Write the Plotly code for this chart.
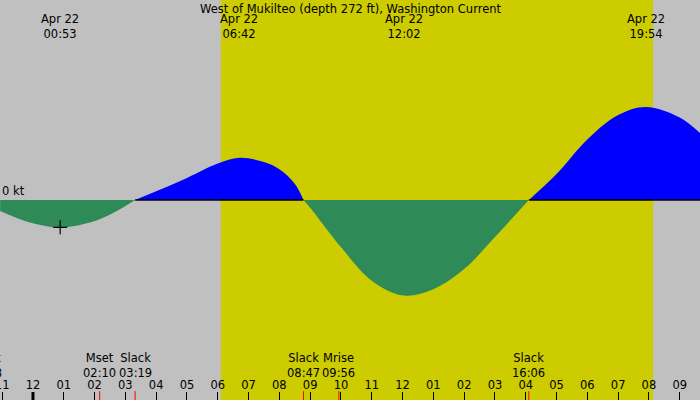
#tidal current chart for West of Mukilteo, one day with day/night shading
import pandas as pd
import plotly.graph_objects as go

#curve samples (time, knots; + = ebb, - = flood)
curve_times = ["2023-04-21 22:56", "2023-04-21 23:54", "2023-04-22 00:53", "2023-04-22 02:10",
               "2023-04-22 03:19", "2023-04-22 04:00", "2023-04-22 05:00", "2023-04-22 06:00",
               "2023-04-22 06:42", "2023-04-22 07:30", "2023-04-22 08:00", "2023-04-22 08:30",
               "2023-04-22 08:47", "2023-04-22 09:00", "2023-04-22 10:00", "2023-04-22 11:00",
               "2023-04-22 12:02", "2023-04-22 13:00", "2023-04-22 14:00", "2023-04-22 15:00",
               "2023-04-22 16:06", "2023-04-22 17:00", "2023-04-22 18:00", "2023-04-22 19:00",
               "2023-04-22 19:54", "2023-04-22 21:00", "2023-04-22 21:40"]
curve_kt = [-0.23, -0.47, -0.57, -0.40,
            0.0, 0.18, 0.46, 0.76,
            0.88, 0.79, 0.64, 0.34,
            0.0, -0.16, -0.98, -1.68,
            -1.99, -1.86, -1.44, -0.77,
            0.0, 0.54, 1.26, 1.77,
            1.94, 1.72, 1.39]

#max/min current times shown at the top
peak_times = ["2023-04-22 00:53", "2023-04-22 06:42", "2023-04-22 12:02", "2023-04-22 19:54"]
peak_labels = ["Apr 22<br>00:53", "Apr 22<br>06:42", "Apr 22<br>12:02", "Apr 22<br>19:54"]

#events along the bottom (slack water, moon set/rise)
event_times = ["2023-04-21 22:28", "2023-04-22 02:10", "2023-04-22 03:19",
               "2023-04-22 08:47", "2023-04-22 09:56", "2023-04-22 16:06"]
event_names = ["Slack", "Mset", "Slack", "Slack", "Mrise", "Slack"]
event_labels = ["22:28", "02:10", "03:19", "08:47", "09:56", "16:06"]

sunrise = "2023-04-22 06:06"
sunset = "2023-04-22 20:08"
midnight = "2023-04-22 00:00"
x_start = "2023-04-21 22:55:45"
x_end = "2023-04-22 21:39:30"

t = pd.to_datetime(curve_times)
t0, t1 = pd.Timestamp(x_start), pd.Timestamp(x_end)
pos = [v if v >= 0 else None for v in curve_kt]
neg = [v if v <= 0 else None for v in curve_kt]
zero_under_ebb = [0 if v >= 0 else None for v in curve_kt]

FONT = "DejaVu Sans"
FS = 11.5
fig = go.Figure()

fig.add_trace(go.Scatter(x=t, y=neg, mode="lines", line=dict(width=0, shape="spline"),
                         fill="tozeroy", fillcolor="#2e8b57", connectgaps=False, hoverinfo="skip"))
fig.add_trace(go.Scatter(x=t, y=pos, mode="lines", line=dict(width=0, shape="spline"),
                         fill="tozeroy", fillcolor="#0000ff", connectgaps=False, hoverinfo="skip"))
fig.add_trace(go.Scatter(x=t, y=zero_under_ebb, mode="lines", line=dict(color="black", width=1.5),
                         connectgaps=False, hoverinfo="skip"))
#marker on the first max flood
fig.add_trace(go.Scatter(x=[pd.Timestamp(peak_times[0])], y=[curve_kt[2]],
                         mode="markers", marker=dict(symbol="cross-thin", size=10,
                                                     line=dict(color="black", width=1.2)),
                         hoverinfo="skip"))

#daylight band
fig.add_vrect(x0=sunrise, x1=sunset, fillcolor="#cccc00", opacity=1, line_width=0, layer="below")

#thick midnight tick
fig.add_shape(type="line", x0=midnight, x1=midnight, xref="x", y0=0, y1=0.02, yref="paper",
              line=dict(color="black", width=3))

#red event ticks
for et in event_times:
    fig.add_shape(type="line", x0=et, x1=et, xref="x", y0=0, y1=0.022, yref="paper",
                  line=dict(color="red", width=1))

for pt, lab in zip(peak_times, peak_labels):
    fig.add_annotation(x=pt, y=0.975, xref="x", yref="paper", text=lab, showarrow=False,
                       xanchor="center", yanchor="top",
                       font=dict(family=FONT, size=FS, color="black"))

for et, name, lab in zip(event_times, event_names, event_labels):
    px_x = (pd.Timestamp(et) - t0) / (t1 - t0)
    fig.add_annotation(x=px_x, y=0.045, xref="paper", yref="paper", text=name + "<br>" + lab,
                       showarrow=False, xanchor="center", yanchor="bottom",
                       font=dict(family=FONT, size=FS, color="black"))

fig.add_annotation(x=0.5, y=1.0, xref="paper", yref="paper", xanchor="center", yanchor="top",
                   showarrow=False, text="West of Mukilteo (depth 272 ft), Washington Current",
                   font=dict(family=FONT, size=FS, color="black"))
fig.add_annotation(x=0.0, y=0.0, xref="paper", yref="y", xanchor="left", yanchor="bottom",
                   showarrow=False, text="0 kt", font=dict(family=FONT, size=FS, color="black"))

fig.update_layout(
    width=700, height=400,
    margin=dict(l=0, r=0, t=0, b=0, pad=0, autoexpand=False),
    paper_bgcolor="#c0c0c0",
    plot_bgcolor="#c0c0c0",
    showlegend=False,
    xaxis=dict(range=[x_start, x_end], type="date", dtick=3600000, tick0=midnight,
               tickformat="%I", ticks="inside", ticklen=8, tickcolor="black", tickwidth=1,
               ticklabelposition="inside", ticklabeloverflow="allow",
               showgrid=False, zeroline=False, showline=False, layer="above traces",
               tickfont=dict(family=FONT, size=FS, color="black")),
    yaxis=dict(range=[-4.1667, 4.1667], visible=False, showgrid=False, zeroline=False),
)

fig.write_html("out.html", post_script="document.body.style.margin='0';",
               config={"displayModeBar": False})
